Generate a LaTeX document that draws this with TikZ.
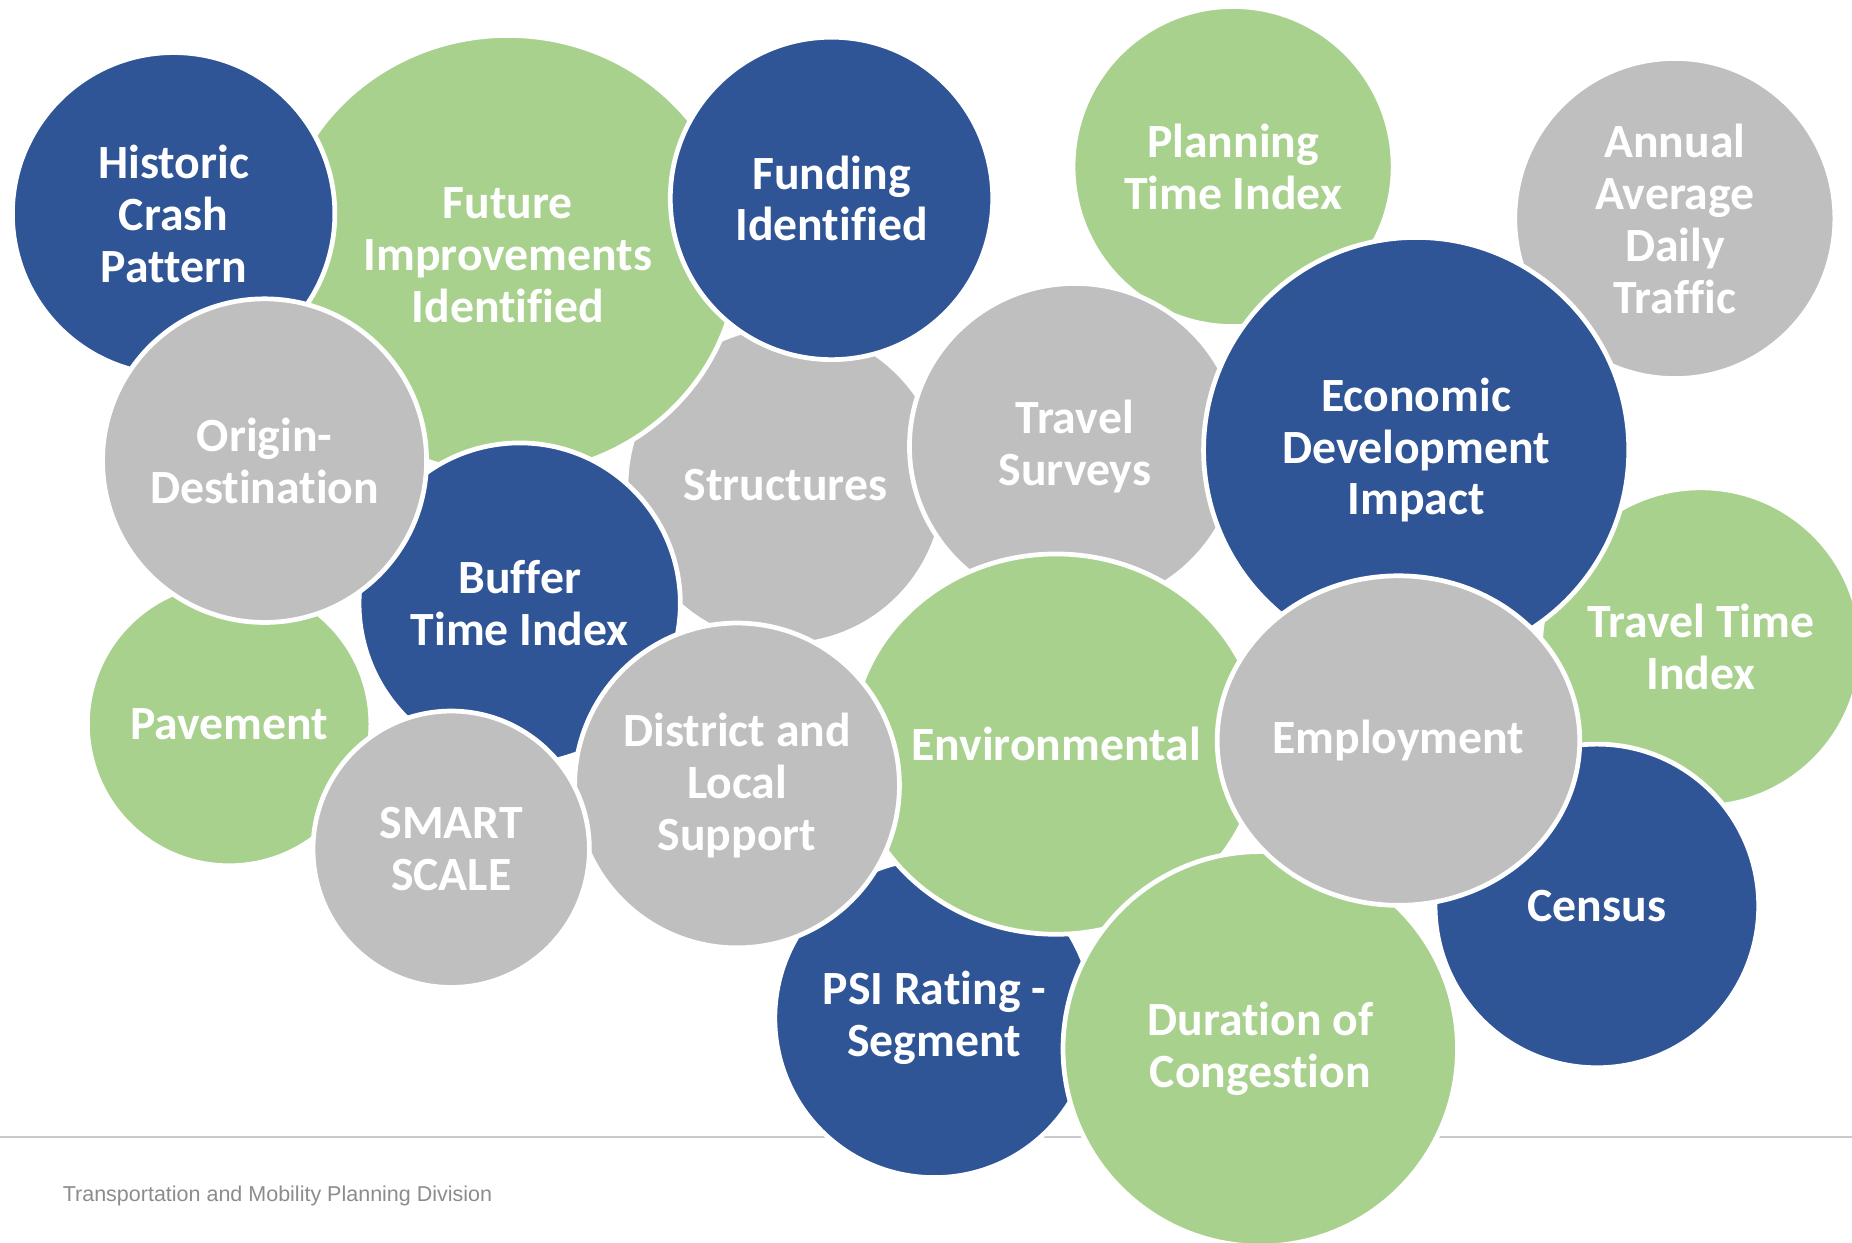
\documentclass[tikz,border=0pt]{standalone}
\usepackage{fontspec}
\setmainfont{Carlito}[Ligatures=NoCommon]
\newfontfamily\footfont{Liberation Sans}
\usepackage[usenames]{xcolor}
\usepackage{tikz}
\usetikzlibrary{shapes.geometric}
\definecolor{bblue}{HTML}{2F5597}
\definecolor{bgreen}{HTML}{A9D18E}
\definecolor{bgray}{HTML}{BFBFBF}
\definecolor{rulegray}{HTML}{C9C9C9}
\definecolor{footgray}{HTML}{8C8C8C}

\begin{document}
\begin{tikzpicture}[line join=round,x=1pt,y=-1pt,
  bub/.style={ellipse,draw=white,line width=4pt,text=white,align=center,inner sep=0pt,
    font=\bfseries\fontsize{40.4}{44}\selectfont},
  rule/.style={draw=rulegray,line width=1.7pt}]
\useasboundingbox (0,0) rectangle (1568,1052);
\clip (0,0) rectangle (1568,1052);
\fill[white] (0,0) rectangle (1568,1052);
\coordinate (ruleL) at (0,963);
\coordinate (ruleR) at (1568,963);
\draw[rule] (ruleL) -- (ruleR);
\node[footgray,anchor=base west,inner sep=0pt,font=\footfont\fontsize{18.2}{20}\selectfont] (division) at (53,1017) {Transportation and Mobility Planning Division};
\node[bub,fill=bgray,minimum size=270pt] (structures) at (665,411) {Structures};
\node[bub,fill=bgreen,minimum width=390pt,minimum height=372pt] (future) at (430,216) {Future\\Improvements\\Identified};
\node[bub,fill=bblue,minimum size=273pt] (crash) at (147,181) {Historic\\Crash\\Pattern};
\node[bub,fill=bblue,minimum size=273pt] (funding) at (704,168) {Funding\\Identified};
\node[bub,fill=bgreen,minimum size=240pt] (pavement) at (194,613) {Pavement};
\node[bub,fill=bblue,minimum size=272pt] (buffer) at (440,511) {Buffer\\Time Index};
\node[bub,fill=bgray,minimum size=274pt] (origin) at (224,390) {Origin-\\Destination};
\node[bub,fill=bgreen,minimum size=271pt] (planning) at (1044,141) {Planning\\Time Index};
\node[bub,fill=bgray,minimum size=271pt] (annual) at (1418,185) {Annual\\Average\\Daily\\Traffic};
\node[bub,fill=bgray,minimum width=280pt,minimum height=276pt] (surveys) at (910,378) {Travel\\Surveys};
\node[bub,fill=bgreen,minimum size=270pt] (traveltime) at (1440,548) {Travel Time\\Index};
\node[bub,fill=bblue,minimum size=360pt] (economic) at (1199,381) {Economic\\Development\\Impact};
\node[bub,fill=bblue,minimum size=270pt] (psi) at (791,862) {PSI Rating -\\Segment};
\node[bub,fill=bgreen,minimum width=344pt,minimum height=322pt] (environmental) at (894,630) {Environmental};
\node[bub,fill=bgray,minimum size=275pt] (district) at (624,665) {District and\\Local\\Support};
\node[bub,fill=bgray,minimum size=234pt] (smart) at (382,719) {SMART\\SCALE};
\node[bub,fill=bgreen,minimum size=334pt] (duration) at (1067,888) {Duration of\\Congestion};
\node[bub,fill=bblue,minimum size=274pt] (census) at (1352,767) {Census};
\node[bub,fill=bgray,minimum width=307pt,minimum height=279pt] (employment) at (1184,627) {Employment};
\end{tikzpicture}
\end{document}
